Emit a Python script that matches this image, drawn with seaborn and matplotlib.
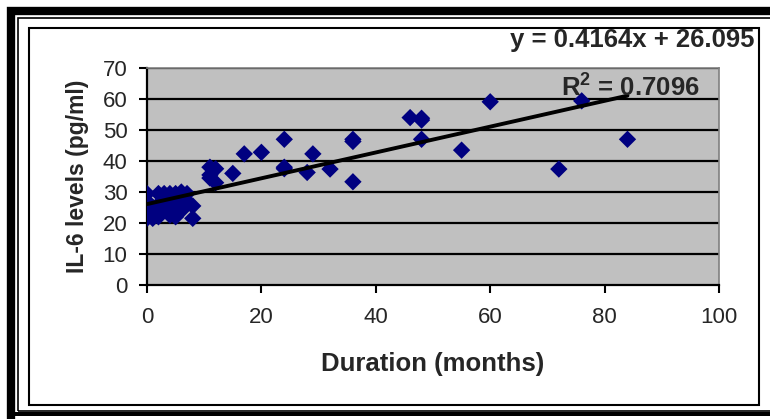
import matplotlib
matplotlib.use("Agg")
import matplotlib.pyplot as plt
from matplotlib.patches import Rectangle
import numpy as np
import pandas as pd
import seaborn as sns

months = [0, 0, 0, 0, 0, 0, 1, 1, 2, 2, 2, 3, 3, 4, 4, 4, 5, 5, 5, 5, 6, 6, 6, 7, 7, 8, 8,
          11, 11, 11, 12, 12, 15, 17, 20, 24, 24, 24, 28, 29, 32, 36, 36, 36,
          46, 48, 48, 48, 55, 60, 72, 76, 84]
il6 = [29.5, 27, 25, 23, 21.5, 24, 21.5, 25, 29.5, 22, 26, 29.5, 24, 29.5, 26, 22.5,
       29.5, 23, 22, 25, 30, 27, 24, 29.5, 27, 25.5, 21.5,
       38, 34.5, 35.5, 37.5, 33, 36, 42.3, 42.8, 47, 38, 37.5, 36.3, 42.3, 37.4,
       47, 46.3, 33.3, 54, 53.8, 53.2, 47, 43.5, 59.1, 37.4, 59.4, 47]
slope = 0.4164
intercept = 26.095
eq_text = "y = 0.4164x + 26.095"
r2_text = "R$^2$ = 0.7096"
x_ticks = [0, 20, 40, 60, 80, 100]
y_ticks = [0, 10, 20, 30, 40, 50, 60, 70]
x_label = "Duration (months)"
y_label = "IL-6 levels (pg/ml)"

df = pd.DataFrame({"months": months, "il6": il6})

sns.set_theme(style="white")
plt.rcParams["font.family"] = ["Liberation Sans", "DejaVu Sans"]
plt.rcParams["mathtext.fontset"] = "custom"
plt.rcParams["mathtext.rm"] = "Liberation Sans:bold"
plt.rcParams["mathtext.bf"] = "Liberation Sans:bold"

W, H = 770, 419
fig = plt.figure(figsize=(W / 100, H / 100), dpi=100)
fig.patch.set_facecolor("white")

def px(x0, y0, x1, y1):
    return [x0 / W, 1 - y1 / H, (x1 - x0) / W, (y1 - y0) / H]

ax = fig.add_axes(px(147, 68, 719, 285))
ax.set_facecolor("#C0C0C0")

for yv in y_ticks[1:]:
    ax.axhline(yv, color="black", lw=1.6, zorder=1)

sns.scatterplot(data=df, x="months", y="il6", marker="D", color="#000080",
                s=78, edgecolor="none", ax=ax, zorder=3)

xl = np.array([min(months), max(months)])
sns.lineplot(x=xl, y=slope * xl + intercept, color="black", lw=2.8, ax=ax,
             zorder=4)

ax.set_xlim(0, 100)
ax.set_ylim(0, 70)
ax.set_xticks(x_ticks)
ax.set_yticks(y_ticks)
ax.tick_params(axis="both", direction="out", length=6, width=1.5, color="black",
               labelsize=16, left=True, bottom=True)
ax.tick_params(axis="x", pad=10)
ax.tick_params(axis="y", pad=8)
ax.set_xlabel(x_label, fontsize=18.5, fontweight="bold", labelpad=17)
ax.set_ylabel(y_label, fontsize=16.5, fontweight="bold", labelpad=10)
for side in ["left", "bottom"]:
    ax.spines[side].set_color("black")
    ax.spines[side].set_linewidth(1.6)
for side in ["top", "right"]:
    ax.spines[side].set_color("#808080")
    ax.spines[side].set_linewidth(1.2)

fig.text(755 / W, 1 - 40 / H, eq_text, ha="right", va="center", fontsize=18.5,
         fontweight="bold")
fig.text(700 / W, 1 - 87 / H, r2_text, ha="right", va="center", fontsize=18.5,
         fontweight="bold")

# frames
fig.add_artist(Rectangle((11 / W, 1 - 440 / H), 800 / W, 429 / H,
                         transform=fig.transFigure, fill=False,
                         edgecolor="black", lw=6))
fig.add_artist(Rectangle((11 / W, 1 - 416 / H), 800 / W, 4 / H,
                         transform=fig.transFigure, facecolor="black",
                         edgecolor="none"))
fig.add_artist(Rectangle((18 / W, 1 - 411 / H), 800 / W, 393 / H,
                         transform=fig.transFigure, fill=False,
                         edgecolor="black", lw=1.2))
fig.add_artist(Rectangle((29 / W, 1 - 405 / H), 730 / W, 377 / H,
                         transform=fig.transFigure, fill=False,
                         edgecolor="black", lw=1.5))

fig.savefig("out.png", dpi=100, facecolor="white")
